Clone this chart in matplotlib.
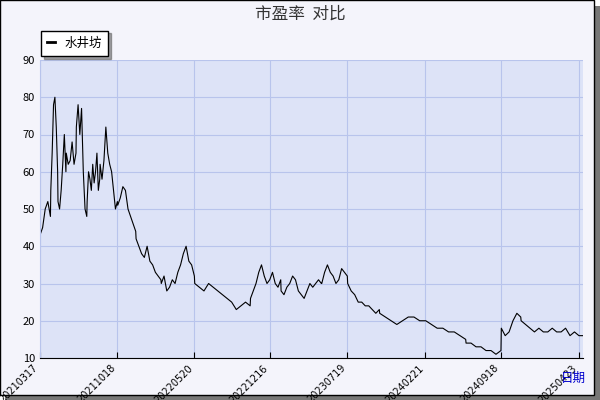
import matplotlib
matplotlib.use("Agg")
import matplotlib.pyplot as plt
import numpy as np
import pandas as pd
from matplotlib.patches import Rectangle

plt.rcParams['font.family'] = ['Noto Sans CJK SC', 'DejaVu Sans']

tick_labels = ["20210317", "20211018", "20220520", "20221216", "20230719", "20240221", "20240918", "20250423"]
tick_dates = pd.to_datetime(tick_labels)

segments = [
    ("2021-03-17", "2021-04-15", [43, 45, 50, 52, 48]),
    ("2021-04-16", "2021-05-05", [55, 65, 78, 80, 72, 60]),
    ("2021-05-06", "2021-05-28", [52, 50, 55, 62, 70, 60]),
    ("2021-05-29", "2021-06-25", [65, 62, 63, 68, 62, 65]),
    ("2021-06-26", "2021-07-25", [72, 78, 70, 77, 60, 50, 48]),
    ("2021-07-26", "2021-08-30", [52, 60, 58, 55, 62, 57, 60, 65, 55, 58]),
    ("2021-08-31", "2021-10-18", [62, 58, 63, 72, 65, 62, 60, 55, 50, 52]),
    ("2021-10-19", "2021-12-08", [51, 53, 56, 55, 50, 48, 46, 44]),
    ("2021-12-09", "2022-02-16", [42, 40, 38, 37, 40, 36, 35, 33, 32, 31]),
    ("2022-02-17", "2022-05-20", [30, 32, 28, 29, 31, 30, 33, 35, 38, 40, 36, 35, 32]),
    ("2022-05-21", "2022-10-22", [30, 29, 28, 30, 29, 28, 27, 26, 25, 23, 24, 25, 24]),
    ("2022-10-23", "2023-01-15", [26, 28, 30, 33, 35, 32, 30, 31, 33, 30, 29, 31]),
    ("2023-01-16", "2023-05-08", [28, 27, 29, 30, 32, 31, 28, 27, 26, 28, 30, 29, 30, 31, 30]),
    ("2023-05-09", "2023-07-19", [30, 33, 35, 33, 32, 30, 31, 34, 33, 32]),
    ("2023-07-20", "2023-10-16", [30, 28, 27, 25, 25, 24, 24, 23, 22, 23]),
    ("2023-10-17", "2024-02-21", [22, 21, 20, 19, 20, 21, 21, 20, 20]),
    ("2024-02-22", "2024-06-12", [20, 19, 18, 18, 17, 17, 16, 15]),
    ("2024-06-13", "2024-09-18", [14, 14, 13, 13, 12, 12, 11, 12]),
    ("2024-09-19", "2024-11-12", [18, 16, 17, 20, 22, 21]),
    ("2024-11-13", "2025-05-05", [20, 19, 18, 17, 18, 17, 17, 18, 17, 17, 18, 16, 17, 16, 16]),
]

dates = []
values = []
for s, e, v in segments:
    d = pd.date_range(s, e, periods=len(v))
    dates.extend(d)
    values.extend(v)

fig = plt.figure(figsize=(6, 4), dpi=100)
fig.patch.set_facecolor("white")
fig.patches.append(Rectangle((0.008, 0.0), 0.992, 0.985, transform=fig.transFigure, facecolor="#777777", edgecolor="none", zorder=-2))
fig.patches.append(Rectangle((0.0, 0.012), 0.99, 0.988, transform=fig.transFigure, facecolor="#f4f4fb", edgecolor="black", lw=1, zorder=-1))

ax = fig.add_axes([40/600, 1-358/400, 543/600, 298/400])
ax.set_facecolor("#dde3f7")
ax.plot(dates, values, color="black", lw=0.8)
ax.set_ylim(10, 90)
ax.set_yticks(range(10, 91, 10))
xmin = pd.Timestamp("2021-03-17")
xmax = tick_dates[-1] + pd.Timedelta(days=11)
ax.set_xlim(xmin, xmax)
ax.set_xticks(tick_dates)
ax.set_xticklabels(tick_labels, rotation=45, ha="right", fontsize=7, family=["DejaVu Sans"])
ax.tick_params(axis="y", labelsize=8, length=0)
ax.tick_params(axis="x", length=4, direction="in")
ax.grid(True, color="#b8c4ec", lw=0.8)
for sp in ["top", "right"]:
    ax.spines[sp].set_visible(False)
ax.spines["left"].set_color("#b8c4ec")

fig.text(0.5, 0.965, "市盈率  对比", ha="center", va="center", fontsize=12, color="#333333")
fig.text(0.955, 0.055, "日期", ha="center", va="center", fontsize=9, color="#0000cc")

leg = ax.legend(["水井坊"], loc="lower left", bbox_to_anchor=(-0.003, 1.005), fontsize=9,
                frameon=True, fancybox=False, shadow=True, edgecolor="black", handlelength=0.6,
                borderpad=0.5, borderaxespad=0.2)
leg.get_frame().set_facecolor("white")
leg.get_lines()[0].set_linewidth(2)

fig.savefig("out.png", dpi=100)
